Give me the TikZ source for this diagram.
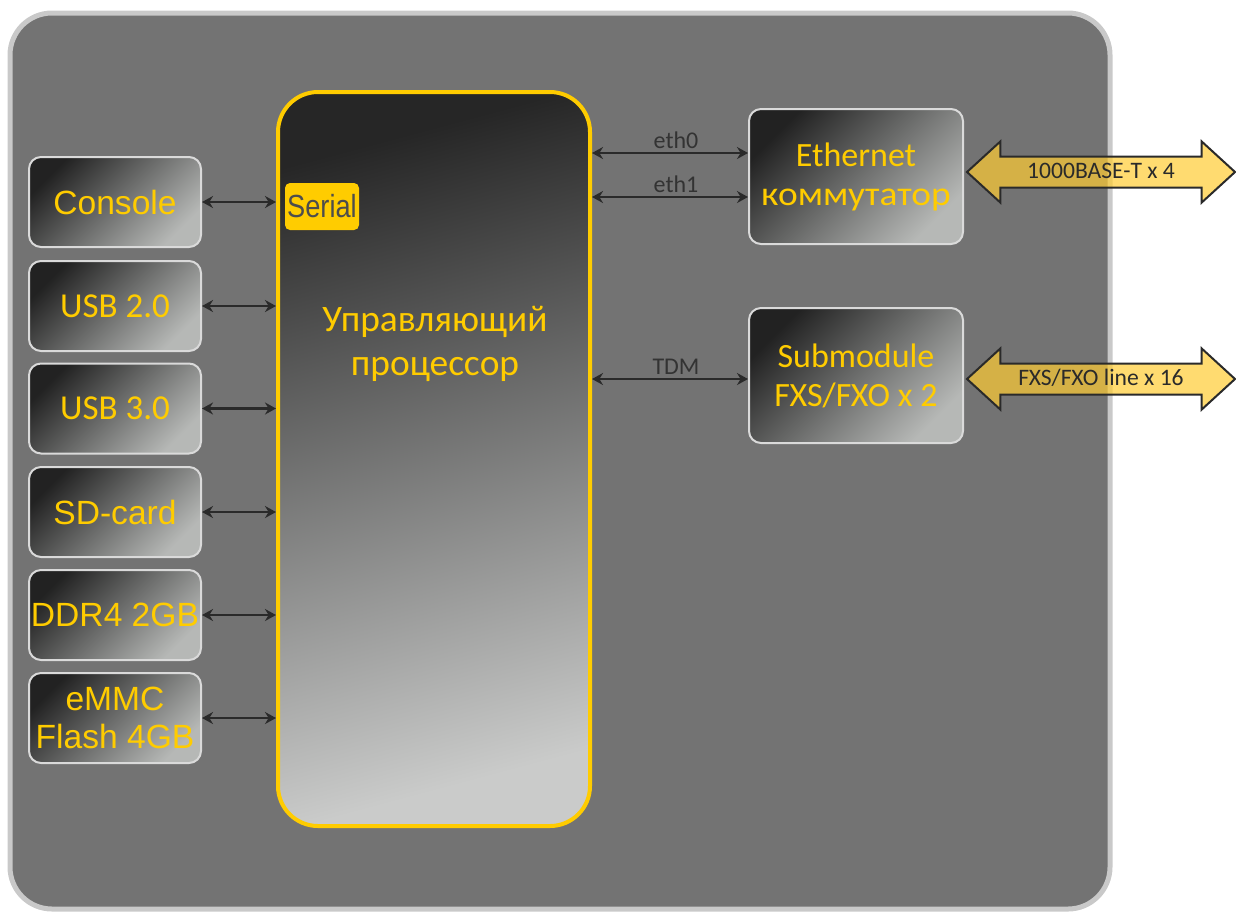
\documentclass[tikz,border=0pt]{standalone}
\usepackage{fontspec}
\usepackage{graphicx}
\setmainfont{Carlito}
\newfontfamily\arialf{Liberation Sans}
\newfontfamily\serialf[FakeStretch=0.85]{Liberation Sans}
\usetikzlibrary{arrows.meta,shapes.arrows,calc}
\definecolor{ylw}{HTML}{FFCC00}
\definecolor{boardfill}{HTML}{737373}
\definecolor{boardedge}{HTML}{C9C9C9}
\definecolor{boxedge}{HTML}{DADADA}
\definecolor{boxdark}{HTML}{222222}
\definecolor{boxlight}{HTML}{B6B8B6}
\definecolor{procdark}{HTML}{262626}
\definecolor{proclight}{HTML}{CACBCA}
\definecolor{cline}{HTML}{2A2A2A}
\definecolor{lbltext}{HTML}{333333}
\definecolor{serialtext}{HTML}{4D4D4D}
\definecolor{bigfill}{HTML}{FFCC33}
\begin{document}
\begin{tikzpicture}[x=0.5pt,y=-0.5pt,
  board/.style={draw=boardedge, line width=2.5pt, fill=boardfill, rounded corners=21pt,
    minimum width=550pt, minimum height=448pt, inner sep=0pt},
  smallbox/.style={draw=boxedge, line width=1pt, rounded corners=6pt,
    top color=boxdark, bottom color=boxlight, shading angle=45,
    minimum width=86pt, minimum height=45pt, inner sep=0pt, align=center, text=ylw},
  arialtxt/.style={font={\arialf\fontsize{16.8}{19}\selectfont}},
  calitxt/.style={font={\fontsize{17.5}{19.5}\selectfont}},
  bigbox/.style={smallbox, minimum width=107pt, minimum height=67.5pt,
    font={\fontsize{17}{19.5}\selectfont}},
  procbox/.style={draw=ylw, line width=2pt, rounded corners=20pt,
    top color=procdark, bottom color=proclight, shading angle=15,
    minimum width=156pt, minimum height=367pt, inner sep=0pt},
  serialbox/.style={fill=ylw, rounded corners=2.5pt, minimum width=37pt, minimum height=23.5pt,
    inner sep=0pt, text=serialtext, font={\serialf\fontsize{16}{18}\selectfont}},
  conn/.style={draw=cline, line width=1.4pt, >={Stealth[length=5.5pt,width=6pt,inset=1.8pt]}, <->},
  lbl/.style={text=lbltext, font={\fontsize{12}{13}\selectfont}, inner sep=1.5pt},
  bigarrow/.style={double arrow, draw=cline, line width=1pt, fill=bigfill, fill opacity=0.7,
    draw opacity=1, text opacity=1, double arrow head extend=7.5pt, double arrow tip angle=85,
    minimum height=134pt, inner xsep=2pt, inner ysep=2.5pt, text height=8pt, text depth=1.5pt,
    text=cline, font={\fontsize{11.8}{13}\selectfont}}
]
\useasboundingbox (0,0) rectangle (1236,912);

\node[board] (board) at (560,461) {};

\node[procbox] (proc) at (434,459) {};
\node[text=ylw, align=center, font={\fontsize{18.7}{22}\selectfont}] (proclbl) at (435,344) {Управляющий\\процессор};
\node[serialbox] (serial) at (322,206.5) {Serial};

\node[smallbox, arialtxt] (console) at (115,202) {Console};
\node[smallbox, calitxt] (usb2) at (115,306) {USB 2.0};
\node[smallbox, calitxt] (usb3) at (115,408.5) {USB 3.0};
\node[smallbox, arialtxt] (sd) at (115,512) {SD-card};
\node[smallbox, arialtxt] (ddr) at (115,615) {DDR4 2GB};
\node[smallbox, arialtxt] (emmc) at (115,718) {eMMC\\Flash 4GB};

\node[bigbox] (eth) at (856,176.5) {Ethernet\\\scalebox{1.1}[1]{коммутатор}};
\node[bigbox] (sub) at (856,375.5) {Submodule\\FXS/FXO x 2};

\foreach \b in {console,usb2,usb3,sd,ddr,emmc}
  \draw[conn] (\b.east) -- (\b.east -| proc.west);

\coordinate (e0) at ([yshift=11.75pt]eth.west);
\coordinate (e1) at ([yshift=-10.25pt]eth.west);
\coordinate (td) at ([yshift=-1.75pt]sub.west);
\draw[conn] (e0 -| proc.east) -- node[lbl, above, xshift=3pt] {eth0} (e0);
\draw[conn] (e1 -| proc.east) -- node[lbl, above, xshift=3pt] {eth1} (e1);
\draw[conn] (td -| proc.east) -- node[lbl, above, xshift=3pt] {TDM} (td);

\node[bigarrow] (ge) at (1101,172) {1000BASE-T x 4};
\node[bigarrow] (fxs) at (1101,379) {FXS/FXO line x 16};
\end{tikzpicture}
\end{document}
